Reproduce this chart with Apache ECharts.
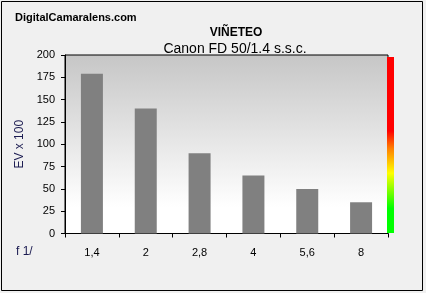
<!DOCTYPE html>
<html><head><meta charset="utf-8">
<script src="https://cdn.jsdelivr.net/npm/echarts@6/dist/echarts.min.js"></script>
<style>html,body{margin:0;padding:0;background:#fff}#c{width:426px;height:293px}</style>
</head><body><div id="c"></div>
<script>
const categories = ['1,4', '2', '2,8', '4', '5,6', '8'];
const values = [179, 140, 90, 65, 50, 35];
const yTicks = [0, 25, 50, 75, 100, 125, 150, 175, 200];

const chart = echarts.init(document.getElementById('c'), null, {renderer: 'canvas'});
const font = 'Liberation Sans, Arial, sans-serif';
chart.setOption({
  backgroundColor: '#f0f0f0',
  animation: false,
  title: [
    {text: 'DigitalCamaralens.com', left: 10, top: 7,
     textStyle: {fontFamily: font, fontSize: 11, fontWeight: 'bold', color: '#000'}},
    {text: 'VIÑETEO', left: 231, top: 22, textAlign: 'center',
     textStyle: {fontFamily: font, fontSize: 12, fontWeight: 'bold', color: '#000'}},
    {text: 'Canon FD 50/1.4 s.s.c.', left: 230, top: 37, textAlign: 'center',
     textStyle: {fontFamily: font, fontSize: 14, fontWeight: 'normal', color: '#000'}}
  ],
  grid: {
    left: 65, right: 38, top: 55, bottom: 59.5,
    show: true, borderColor: '#000', borderWidth: 1,
    backgroundColor: {type: 'linear', x: 0, y: 0, x2: 0, y2: 1,
      colorStops: [{offset: 0, color: '#c6c6c6'}, {offset: 0.85, color: '#ffffff'}, {offset: 1, color: '#ffffff'}]}
  },
  xAxis: {
    type: 'category', data: categories, boundaryGap: true,
    axisLine: {lineStyle: {color: '#000', width: 1}},
    axisTick: {show: true, length: 4, alignWithLabel: false, lineStyle: {color: '#000'}},
    axisLabel: {fontFamily: font, fontSize: 11, color: '#000', margin: 14}
  },
  yAxis: {
    type: 'value', min: 0, max: 200, interval: 25,
    name: 'EV x 100', nameLocation: 'middle', nameGap: 38,
    nameTextStyle: {fontFamily: font, fontSize: 12, color: '#1a1a50'},
    axisLine: {show: true, lineStyle: {color: '#000', width: 1}},
    axisTick: {show: true, length: 4, lineStyle: {color: '#000'}},
    splitLine: {show: false},
    axisLabel: {fontFamily: font, fontSize: 11, color: '#000', margin: 10,
      formatter: v => yTicks.includes(v) ? String(v) : ''}
  },
  series: [{
    type: 'bar', data: values, barWidth: 22,
    itemStyle: {color: '#808080'}
  }],
  graphic: [
    {type: 'rect', shape: {x: 1.5, y: 1.5, width: 421, height: 289},
     style: {fill: null, stroke: '#000', lineWidth: 1}, silent: true, z: 100},
    {type: 'rect', shape: {x: 387, y: 57, width: 7, height: 176},
     style: {fill: {type: 'linear', x: 0, y: 0, x2: 0, y2: 1, colorStops: [
       {offset: 0, color: '#ff0000'}, {offset: 0.42, color: '#ff0000'},
       {offset: 0.52, color: '#ff8000'}, {offset: 0.66, color: '#ffff00'},
       {offset: 0.86, color: '#00ff00'}, {offset: 1, color: '#00ff00'}]}},
     silent: true, z: 50},
    {type: 'text', left: 16, top: 246,
     style: {text: 'f 1/', fontFamily: font, fontSize: 12, fill: '#1a1a50'}, silent: true}
  ]
});
</script></body></html>
